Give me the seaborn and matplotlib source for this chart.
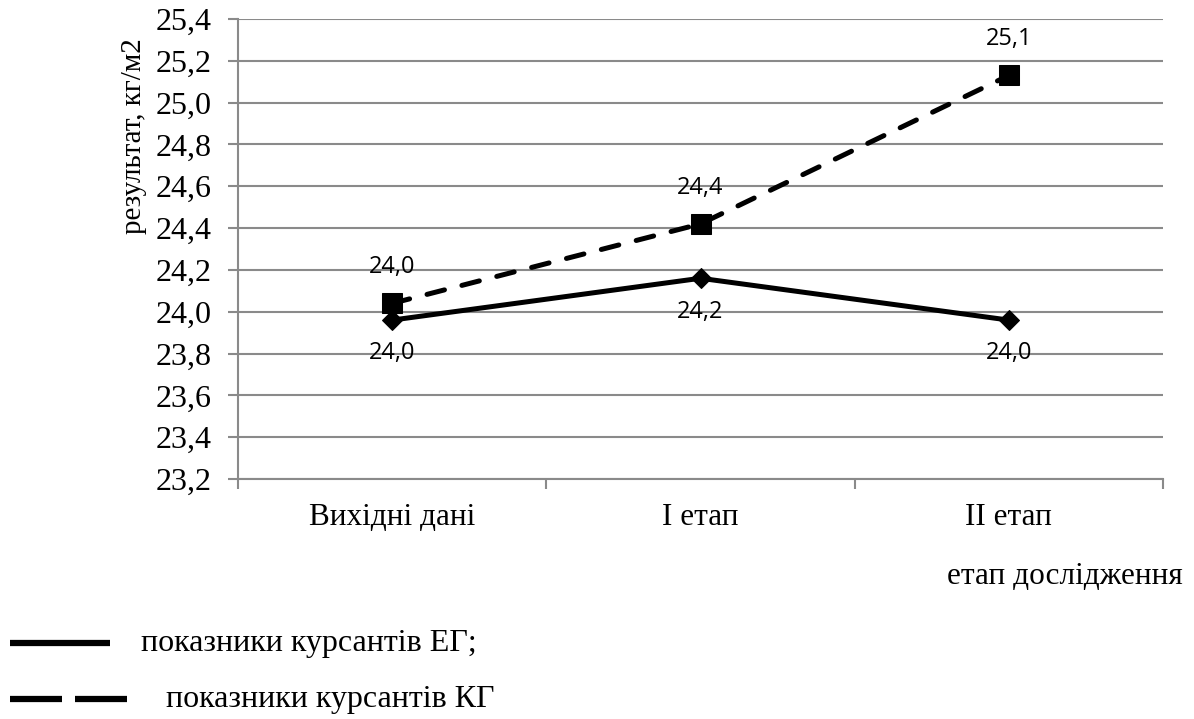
import matplotlib
matplotlib.use("Agg")
import matplotlib.pyplot as plt
import seaborn as sns
import pandas as pd
from matplotlib.lines import Line2D
from matplotlib.ticker import FixedLocator, FuncFormatter

# ---- data ----
categories = ["Вихідні дані", "I етап", "II етап"]
eg_values = [23.96, 24.16, 23.96]
kg_values = [24.04, 24.42, 25.13]
eg_labels = ["24,0", "24,2", "24,0"]
kg_labels = ["24,0", "24,4", "25,1"]
y_ticks = [23.2, 23.4, 23.6, 23.8, 24.0, 24.2, 24.4, 24.6, 24.8, 25.0, 25.2, 25.4]
y_title = "результат, кг/м2"
x_title = "етап дослідження"
legend_eg = "показники курсантів ЕГ;"
legend_kg = "показники курсантів КГ"

sns.set_theme(style="white")
plt.rcParams["font.family"] = ["Liberation Serif", "DejaVu Serif"]
plt.rcParams["text.color"] = "black"
plt.rcParams["axes.labelcolor"] = "black"

W, H = 1194, 719
fig = plt.figure(figsize=(W / 100, H / 100), dpi=100)
ax = fig.add_axes([238 / W, 1 - 479 / H, (1163 - 238) / W, (479 - 19) / H])

df_eg = pd.DataFrame({"stage": categories, "value": eg_values})
df_kg = pd.DataFrame({"stage": categories, "value": kg_values})

sns.lineplot(data=df_eg, x="stage", y="value", ax=ax, color="black", lw=3.6,
             marker="D", markersize=10, markeredgecolor="black", sort=False, zorder=3)
sns.lineplot(data=df_kg, x="stage", y="value", ax=ax, color="black", lw=3.6,
             marker="s", markersize=14, markeredgecolor="black", sort=False,
             dashes=False, zorder=3)
kg_line = ax.lines[-1]
kg_line.set_dashes((3.6, 3.6))
kg_line.set_dash_capstyle("round")

ax.set_xlim(-0.5, 2.5)
ax.set_ylim(23.2, 25.4)
ax.yaxis.set_major_locator(FixedLocator(y_ticks))
ax.yaxis.set_major_formatter(FuncFormatter(lambda v, p: f"{v:.1f}".replace(".", ",")))
ax.grid(axis="y", color="#8a8a8a", lw=1.5)
ax.grid(axis="x", visible=False)
ax.set_axisbelow(True)

for s in ["top", "right"]:
    ax.spines[s].set_visible(False)
for s in ["left", "bottom"]:
    ax.spines[s].set_color("#8a8a8a")
    ax.spines[s].set_linewidth(1.5)

ax.tick_params(axis="y", which="major", left=True, length=7, width=1.5, color="#8a8a8a",
               pad=12, labelsize=23, labelcolor="black")
ax.set_xticks(range(len(categories)))
ax.set_xticklabels(categories)
ax.tick_params(axis="x", which="major", length=0, pad=17, labelsize=22.5, labelcolor="black")
ax.set_xticks([-0.5, 0.5, 1.5, 2.5], minor=True)
ax.tick_params(axis="x", which="minor", bottom=True, length=7, width=1.5, color="#8a8a8a")

ax.set_xlabel("")
ax.set_ylabel(y_title, fontsize=21, color="black")
ax.yaxis.set_label_coords(-0.098, 0.746)

for i, (v, lab) in enumerate(zip(eg_values, eg_labels)):
    ax.annotate(lab, (i, v), xytext=(0, -24), textcoords="offset points",
                ha="center", va="center", fontsize=17, family="Open Sans", color="black")
for i, (v, lab) in enumerate(zip(kg_values, kg_labels)):
    ax.annotate(lab, (i, v), xytext=(0, 26), textcoords="offset points",
                ha="center", va="center", fontsize=17, family="Open Sans", color="black")

fig.text(1183 / W, 1 - 576 / H, x_title, ha="right", va="center", fontsize=22.5)

# legend drawn below the chart
lkw = dict(color="black", lw=4.5, solid_capstyle="butt", transform=fig.transFigure)
fig.add_artist(Line2D([10 / W, 110 / W], [1 - 643 / H] * 2, **lkw))
fig.text(141 / W, 1 - 643 / H, legend_eg, ha="left", va="center", fontsize=23)
fig.add_artist(Line2D([10 / W, 62 / W], [1 - 699 / H] * 2, **lkw))
fig.add_artist(Line2D([75 / W, 127 / W], [1 - 699 / H] * 2, **lkw))
fig.text(166 / W, 1 - 699 / H, legend_kg, ha="left", va="center", fontsize=23)

fig.savefig("out.png", dpi=100, facecolor="white")
